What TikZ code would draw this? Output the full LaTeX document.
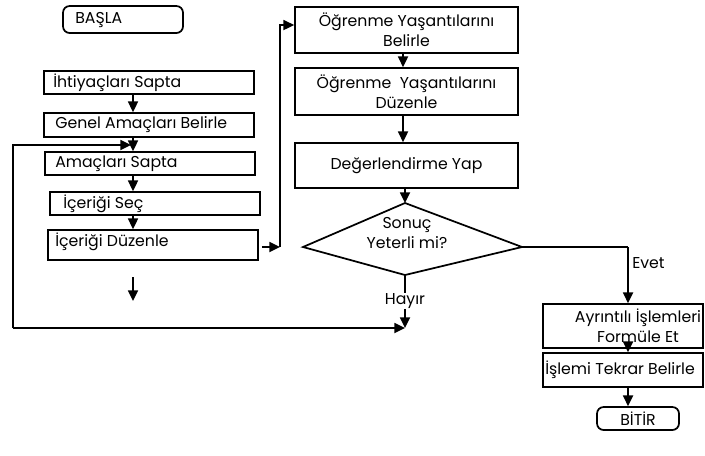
\documentclass[tikz,border=0pt]{standalone}
\usepackage{fontspec}
\setmainfont{Poppins}
\usetikzlibrary{arrows.meta,fit}
\begin{document}
\begin{tikzpicture}[x=0.75pt,y=-0.75pt,
  box/.style={draw,line width=1.3pt,inner sep=0pt},
  rbox/.style={box,rounded corners=5pt},
  txt/.style={font=\fontsize{11.8}{15}\selectfont,inner sep=0pt,align=center},
  ar/.style={line width=1.3pt,-{Triangle[length=8pt,width=7.5pt]}},
  ln/.style={line width=1.3pt}]
\useasboundingbox (0,0) rectangle (705,455);
% left column
\node[rbox,fit={(63,6) (183,33)}] (b0) {};
\node[txt,anchor=west] (t0) at (75,20) {BAŞLA};
\node[box,fit={(44,71) (254,94)}] (b1) {};
\node[txt,anchor=west] (t1) at (53,82.5) {İhtiyaçları Sapta};
\node[box,fit={(44,113) (254,137)}] (b2) {};
\node[txt,anchor=west] (t2) at (55,125) {Genel Amaçları Belirle};
\node[box,fit={(45,152) (255,175)}] (b3) {};
\node[txt,anchor=west] (t3) at (55,163.5) {Amaçları Sapta};
\node[box,fit={(50,192) (260,215)}] (b4) {};
\node[txt,anchor=west] (t4) at (63,203.5) {İçeriği Seç};
\node[box,fit={(48,230) (258,260)}] (b5) {};
\node[txt,anchor=west] (t5) at (55,242) {İçeriği Düzenle};
% right column
\node[box,fit={(295,7) (518,53)}] (r1) {};
\node[txt] (u1) at (r1.center) {Öğrenme Yaşantılarını\\Belirle};
\node[box,fit={(295,68) (518,115)}] (r2) {};
\node[txt] (u2) at (r2.center) {Öğrenme~~Yaşantılarını\\Düzenle};
\node[box,fit={(295,143) (518,188)}] (r3) {};
\node[txt] (u3) at (r3.center) {Değerlendirme Yap};
% diamond
\coordinate (dt) at (405,203);
\coordinate (dr) at (522,247);
\coordinate (db) at (405,275);
\coordinate (dl) at (303,247);
\draw[ln,line join=miter] (dt) -- (dr) -- (db) -- (dl) -- cycle;
\node[txt] (dq) at (407,233) {Sonuç\\Yeterli mi?};
\node[txt] (hy) at (405,301) {Hayır};
\node[txt,anchor=west] (ev) at (632,263) {Evet};
% final column
\node[box,fit={(543,304) (703,348)}] (a1) {};
\node[txt] (v1) at (638,326) {Ayrıntılı İşlemleri\\Formüle Et};
\node[box,fit={(543,353) (703,387)}] (a2) {};
\node[txt,anchor=west] (v2) at (545,370) {İşlemi Tekrar Belirle};
\node[rbox,fit={(597,407) (679,430)}] (a3) {};
\node[txt] (v3) at (a3.center) {BİTİR};
% coordinates
\coordinate (lx) at (13,145);
\coordinate (ly) at (13,328);
\coordinate (jn) at (405,328);
\coordinate (f1) at (133,277);
\coordinate (f2) at (133,301);
\coordinate (v0) at (280,247);
\coordinate (vt) at (280,25);
\coordinate (ec) at (628,247);
% connectors
\draw[ar] (b1.south -| 133,0) -- (b2.north -| 133,0);
\draw[ar] (b2.south -| 133,0) -- (b3.north -| 133,0);
\draw[ar] (b3.south -| 133,0) -- (b4.north -| 133,0);
\draw[ar] (b4.south -| 133,0) -- (b5.north -| 133,0);
\draw[ar] (f1) -- (f2);
\draw[ar] (ly) -- (lx) -- (131,145);
\draw[ar] (ly) -- (jn);
\draw[ar] (b5.east |- v0) ++(3,0) -- (v0);
\draw[ar] (v0) -- (vt) -- (r1.west |- vt);
\draw[ar] (r1.south -| 403,0) -- (r2.north -| 403,0);
\draw[ar] (r2.south -| 403,0) -- (r3.north -| 403,0);
\draw[ar] (r3.south -| 405,0) -- (dt);
\draw[ln] (db) -- (hy.north);
\draw[ar] (hy.south) -- (jn);
\draw[ln] (dr) -- (ec);
\draw[ar] (ec) -- (a1.north -| ec);
\draw[ar] (a1.south -| ec) -- (a2.north -| ec);
\draw[ar] (a2.south -| ec) -- (a3.north -| ec);
\end{tikzpicture}
\end{document}
